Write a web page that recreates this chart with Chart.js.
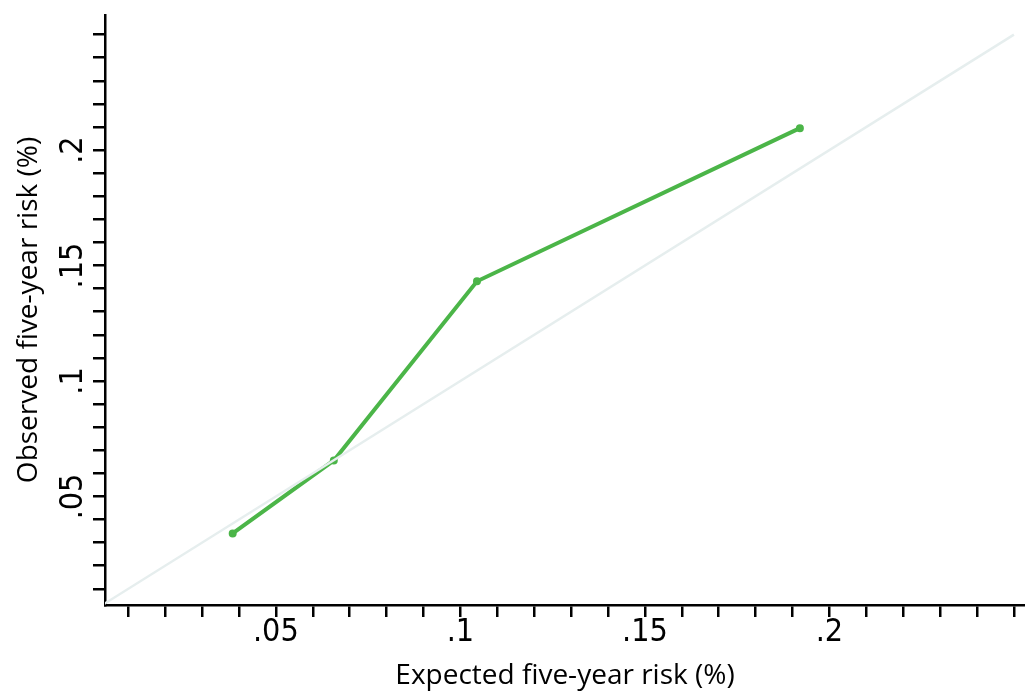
<!DOCTYPE html>
<html>
<head>
  <meta charset="utf-8">
  <title>Calibration plot</title>
  <script src="https://cdn.jsdelivr.net/npm/chart.js@4.4.1/dist/chart.umd.min.js"></script>
  <style>
    body { margin: 0; background: #fff; overflow: hidden; }
    #wrap { width: 1033px; height: 693px; }
  </style>
</head>
<body>
  <div id="wrap"><canvas id="myChart"></canvas></div>
  <script>
    // points
    var expectedRisk = [0.0383, 0.0657, 0.1045, 0.192];
    var observedRisk = [0.034, 0.0656, 0.1432, 0.2095];

    // reference line y = x
    var refLine = [0, 0.25];

    // labelled ticks and the minor ones (every .01)
    var majorTicks = [0.05, 0.1, 0.15, 0.2];
    var majorLabels = ['.05', '.1', '.15', '.2'];
    var minorTicks = [];
    for (var i = 1; i <= 25; i++) minorTicks.push(i / 100);

    var tickFont = { family: "'Liberation Sans Narrow', 'DejaVu Sans Condensed', sans-serif", size: 32, lineHeight: 1 };

    function tickLabel(value) {
      for (var k = 0; k < majorTicks.length; k++) {
        if (Math.abs(majorTicks[k] - value) < 1e-9) return majorLabels[k];
      }
      return '';
    }

    function setTicks(scale) {
      scale.ticks = minorTicks.map(function (v) { return { value: v }; });
    }

    var ctx = document.getElementById('myChart').getContext('2d');
    var myChart = new Chart(ctx, {
      type: 'scatter',
      data: {
        datasets: [{
          label: 'y = x',
          data: refLine.map(function (v) { return { x: v, y: v }; }),
          showLine: true,
          borderColor: '#e6eeee',
          borderWidth: 2.5,
          pointRadius: 0
        }, {
          label: 'Observed',
          data: expectedRisk.map(function (v, j) { return { x: v, y: observedRisk[j] }; }),
          showLine: true,
          borderColor: '#4bb548',
          backgroundColor: '#4bb548',
          borderWidth: 4,
          pointRadius: 2
        }]
      },
      options: {
        responsive: true,
        maintainAspectRatio: false,
        animation: false,
        layout: { padding: { top: 15, left: 0, right: 0, bottom: 0 } },
        plugins: {
          legend: { display: false },
          tooltip: { enabled: false }
        },
        scales: {
          x: {
            type: 'linear',
            min: 0.0037,
            max: 0.253,
            afterBuildTicks: setTicks,
            afterFit: function (s) { s.height = 88; },
            border: { display: true, color: '#000', width: 2.5 },
            grid: { drawOnChartArea: false, drawTicks: true, tickLength: 12, color: '#000', lineWidth: 2.5 },
            ticks: {
              autoSkip: false,
              maxRotation: 0,
              padding: 0,
              color: '#000',
              font: tickFont,
              callback: tickLabel
            },
            title: {
              display: true,
              text: 'Expected five-year risk (%)',
              color: '#000',
              font: { family: "'Open Sans', sans-serif", size: 28 },
              padding: { top: 0, bottom: 0 }
            }
          },
          y: {
            type: 'linear',
            min: 0.003,
            max: 0.2585,
            afterBuildTicks: setTicks,
            afterFit: function (s) { s.width = 105; },
            border: { display: true, color: '#000', width: 2.5 },
            grid: { drawOnChartArea: false, drawTicks: true, tickLength: 12, color: '#000', lineWidth: 2.5 },
            ticks: {
              autoSkip: false,
              minRotation: 90,
              maxRotation: 90,
              crossAlign: 'center',
              padding: -4,
              color: '#000',
              font: tickFont,
              callback: tickLabel
            },
            title: {
              display: true,
              text: 'Observed five-year risk (%)',
              color: '#000',
              font: { family: "'Open Sans', sans-serif", size: 28 },
              padding: { top: 12, bottom: 0 }
            }
          }
        }
      }
    });
  </script>
</body>
</html>
